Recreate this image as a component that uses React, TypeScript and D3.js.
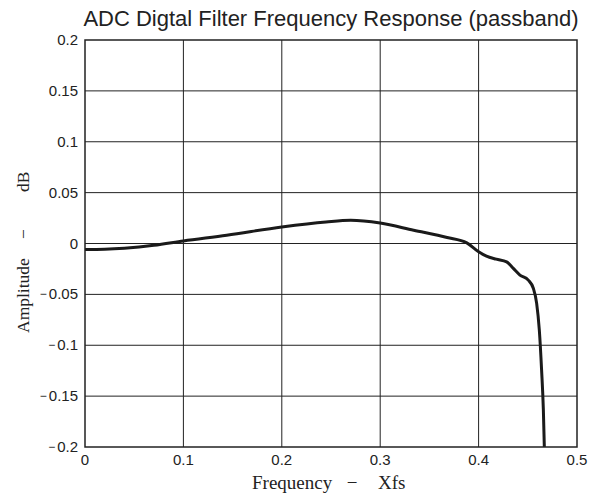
import React from "react";
import * as d3 from "d3";

const freq = [0, 0.02, 0.04, 0.07, 0.1, 0.144, 0.2, 0.245, 0.27, 0.3, 0.334, 0.368, 0.388, 0.4, 0.408, 0.418, 0.4285, 0.4353, 0.442, 0.4505, 0.4556, 0.459, 0.4617, 0.464, 0.4658, 0.4668];
const amp = [-0.0059, -0.0056, -0.0046, -0.0018, 0.0025, 0.0081, 0.0163, 0.0212, 0.0228, 0.0201, 0.013, 0.0059, 0.0006, -0.0082, -0.0125, -0.0154, -0.018, -0.0245, -0.031, -0.036, -0.044, -0.0588, -0.085, -0.124, -0.163, -0.2];
const xTicks = [0, 0.1, 0.2, 0.3, 0.4, 0.5];
const yTicks = [0.2, 0.15, 0.1, 0.05, 0, -0.05, -0.1, -0.15, -0.2];
const title = "ADC Digtal Filter Frequency Response (passband)";
const xLabelParts = ["Frequency", "\u2212", "Xfs"];
const yLabelParts = ["Amplitude", "\u2212", "dB"];

const W = 599, H = 502;
const L = 85, R = 577, T = 40, B = 447;

export default function App() {
  const x = d3.scaleLinear().domain([0, 0.5]).range([L, R]);
  const y = d3.scaleLinear().domain([-0.2, 0.2]).range([B, T]);
  const pts: [number, number][] = freq.map((f, i) => [f, amp[i]]);
  const line = d3
    .line<[number, number]>()
    .x((d) => x(d[0]))
    .y((d) => y(d[1]))
    .curve(d3.curveMonotoneX);
  const fmt = (v: number) => String(Math.abs(v));
  const serif = "Liberation Serif, Times New Roman, serif";
  const sans = "Liberation Sans, Arial, sans-serif";
  return (
    <svg width={W} height={H} style={{ position: "absolute", left: 0, top: 0, background: "#fff" }}>
      <rect x={0} y={0} width={W} height={H} fill="#fff" />
      {xTicks.slice(1, -1).map((t) => (
        <line key={"gx" + t} x1={x(t)} x2={x(t)} y1={T} y2={B} stroke="#222" strokeWidth={1} />
      ))}
      {yTicks.slice(1, -1).map((t) => (
        <line key={"gy" + t} x1={L} x2={R} y1={y(t)} y2={y(t)} stroke="#222" strokeWidth={1} />
      ))}
      <path d={line(pts) || ""} fill="none" stroke="#1a1a1a" strokeWidth={3} strokeLinejoin="round" />
      <rect x={L} y={T} width={R - L} height={B - T} fill="none" stroke="#222" strokeWidth={1.5} />
      {xTicks.map((t) => (
        <text key={"tx" + t} x={x(t)} y={465} textAnchor="middle" fontFamily={sans} fontSize={15} fill="#222">
          {String(t)}
        </text>
      ))}
      {yTicks.map((t) => (
        <text key={"ty" + t} x={78} y={y(t) + 5} textAnchor="end" fontFamily={sans} fontSize={15} fill="#222">
          {t < 0 ? <tspan fontSize={12} dy={-1}>{"\u2212"}</tspan> : null}
          {t < 0 ? <tspan dx={2} dy={1}>{fmt(t)}</tspan> : fmt(t)}
        </text>
      ))}
      <text x={(L + R) / 2} y={26} textAnchor="middle" fontFamily={sans} fontSize={22} fill="#222">
        {title}
      </text>
      <g fontFamily={serif} fontSize={19} fill="#222">
        <text x={252} y={489}>{xLabelParts[0]}</text>
        <text x={352} y={489} textAnchor="middle">{xLabelParts[1]}</text>
        <text x={378} y={489}>{xLabelParts[2]}</text>
      </g>
      <g transform="translate(29, 0) rotate(-90)" fontFamily={serif} fontSize={17.5} fill="#222">
        <text x={-333} y={0}>{yLabelParts[0]}</text>
        <text x={-234} y={0} textAnchor="middle">{yLabelParts[1]}</text>
        <text x={-192} y={0}>{yLabelParts[2]}</text>
      </g>
    </svg>
  );
}
